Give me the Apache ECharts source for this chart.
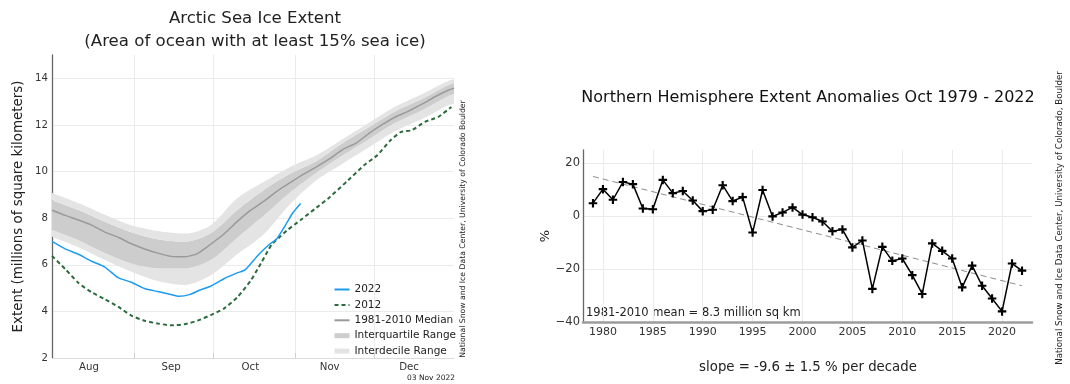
<!DOCTYPE html>
<html><head><meta charset="utf-8">
<script src="https://cdn.jsdelivr.net/npm/echarts@6/dist/echarts.min.js"></script>
<style>html,body{margin:0;padding:0;background:#fff}#c{width:1070px;height:384px}</style>
</head><body><div id="c"></div>
<script>
// ---------- Left chart: daily extent (days since Aug 1) ----------
const months = ['Aug','Sep','Oct','Nov','Dec'];
const monthStartDay = [0, 31, 61, 92, 122];
const monthLabelDay = [14, 45, 75, 105, 135];
const lastDay = 152;

const days2022 = [0,5,10,15,20,25,30,35,40,45,48,52,56,60,65,70,73,78,82,85,89,91,94];
const ext2022  = [7.0,6.68,6.45,6.15,5.90,5.45,5.25,4.98,4.85,4.72,4.65,4.72,4.92,5.08,5.40,5.65,5.78,6.42,6.86,7.12,7.84,8.22,8.63];

const days2012 = [0,5,10,15,20,25,30,35,40,45,50,55,60,65,70,75,79,83,86,89,94,100,105,112,118,123,128,132,136,141,146,151];
const ext2012  = [6.38,5.82,5.22,4.82,4.52,4.20,3.82,3.60,3.48,3.40,3.45,3.60,3.84,4.12,4.60,5.30,6.06,6.86,7.18,7.49,7.92,8.45,8.90,9.63,10.27,10.70,11.34,11.70,11.77,12.13,12.34,12.77];

const daysMedian = [0,5,10,15,20,25,30,35,40,45,50,55,60,65,70,75,80,85,90,95,100,105,110,115,120,125,130,135,140,145,150,152];
const extMedian  = [8.34,8.12,7.92,7.70,7.40,7.18,6.90,6.68,6.50,6.36,6.34,6.48,6.88,7.32,7.85,8.33,8.72,9.15,9.52,9.88,10.20,10.55,10.95,11.22,11.65,12.02,12.35,12.60,12.90,13.22,13.50,13.58];

const bandDays = [0,10,20,30,40,50,60,70,80,90,100,110,120,130,140,150,152];
const p10 = [7.20,6.75,6.20,5.70,5.30,5.13,5.55,6.45,7.30,8.60,9.63,10.35,11.05,11.75,12.25,12.85,12.92];
const p25 = [7.50,7.05,6.50,6.05,5.85,5.84,6.20,7.15,8.10,9.10,9.95,10.70,11.40,12.10,12.63,13.25,13.33];
const p75 = [8.77,8.35,7.85,7.40,7.10,6.99,7.35,8.35,9.20,9.90,10.45,11.22,11.92,12.60,13.12,13.72,13.80];
const p90 = [9.08,8.65,8.15,7.70,7.45,7.34,7.70,8.85,9.55,10.20,10.70,11.40,12.10,12.80,13.33,13.90,13.96];

// ---------- Right chart: October anomalies ----------
const years = [1979,1980,1981,1982,1983,1984,1985,1986,1987,1988,1989,1990,1991,1992,1993,1994,1995,1996,1997,1998,1999,2000,2001,2002,2003,2004,2005,2006,2007,2008,2009,2010,2011,2012,2013,2014,2015,2016,2017,2018,2019,2020,2021,2022];
const anomalies = [4.9,10.2,6.2,12.9,12.1,2.9,2.6,13.7,8.7,9.5,5.9,1.9,2.4,11.7,5.7,7.2,-6.2,9.9,-0.1,1.4,3.3,0.6,-0.4,-2.0,-5.7,-5.0,-11.8,-9.2,-27.5,-11.6,-16.9,-16.0,-22.3,-29.4,-10.3,-13.1,-16.0,-26.9,-18.7,-26.3,-31.1,-36.0,-17.9,-20.6];
const trendYears = [1979, 2022];
const trendValues = [15.0, -26.3];
const yearAxisStart = 1978, yearAxisEnd = 2023;

// ---------- build ----------
const FONT = '"DejaVu Sans", "Liberation Sans", sans-serif';
const dayCats = [];
for (let d = 0; d <= lastDay; d++) {
  let m = 0;
  for (let k = 0; k < monthStartDay.length; k++) if (d >= monthStartDay[k]) m = k;
  dayCats.push(months[m] + ' ' + (d - monthStartDay[m] + 1));
}
const yearCats = [];
for (let y = yearAxisStart; y <= yearAxisEnd; y++) yearCats.push(String(y));

const pairs = (xs, ys) => xs.map((x, i) => [x, ys[i]]);
const diff = (a, b) => a.map((v, i) => +(v - b[i]).toFixed(3));
const minus = v => String(v).replace('-', '\u2212');

const GRID = '#ebebeb', NONE = 'rgba(0,0,0,0)';
const LIGHT = '#e4e4e4', DARK = '#cdcdcd';
const bandCommon = { type: 'line', xAxisIndex: 0, yAxisIndex: 0, stack: 'band', symbol: 'none',
  smooth: 0.3, lineStyle: { width: 0 }, silent: true, z: 1 };

const chart = echarts.init(document.getElementById('c'), null, { renderer: 'canvas' });
chart.setOption({
  animation: false,
  textStyle: { fontFamily: FONT },
  grid: [
    { left: 52, top: 55, width: 402, height: 303 },
    { left: 583, top: 150, width: 449, height: 172 }
  ],
  xAxis: [
    { type: 'category', gridIndex: 0, data: dayCats, boundaryGap: false,
      axisLine: { show: true, onZero: false, lineStyle: { color: '#dcdcdc', width: 1 } },
      axisTick: { show: true, inside: true, length: 5, lineStyle: { color: '#cfcfcf' },
        interval: i => monthStartDay.indexOf(i) > 0 },
      axisLabel: { interval: i => monthLabelDay.indexOf(i) >= 0, formatter: v => v.split(' ')[0],
        color: '#333', fontSize: 10.2, margin: 4, fontFamily: FONT },
      splitLine: { show: true, interval: i => monthStartDay.indexOf(i) > 0, lineStyle: { color: GRID } } },
    { type: 'category', gridIndex: 1, data: yearCats, boundaryGap: false,
      axisLine: { show: true, onZero: false, lineStyle: { color: '#9c9c9c', width: 2.5 } },
      axisTick: { show: false },
      axisLabel: { interval: (i, v) => (+v) % 5 === 0, color: '#333', fontSize: 11, margin: 5, fontFamily: FONT },
      splitLine: { show: true, interval: (i, v) => (+v) % 5 === 0, lineStyle: { color: GRID } } }
  ],
  yAxis: [
    { type: 'value', gridIndex: 0, min: 2, max: 15, interval: 2,
      name: 'Extent (millions of square kilometers)', nameLocation: 'middle', nameGap: 27,
      nameTextStyle: { fontSize: 13.4, color: '#222', fontFamily: FONT },
      axisLine: { show: true, lineStyle: { color: '#666', width: 1.3 } },
      axisTick: { show: false },
      axisLabel: { showMaxLabel: false, color: '#333', fontSize: 10.2, margin: 4, fontFamily: FONT },
      splitLine: { show: true, lineStyle: { color: [GRID, GRID, GRID, GRID, GRID, GRID, GRID, NONE] } } },
    { type: 'value', gridIndex: 1, min: -40, max: 25, interval: 20,
      name: '%', nameLocation: 'middle', nameGap: 31,
      nameTextStyle: { fontSize: 13, color: '#222', fontFamily: FONT },
      axisLine: { show: true, lineStyle: { color: '#666', width: 1.3 } },
      axisTick: { show: false },
      axisLabel: { showMaxLabel: false, formatter: minus, color: '#333', fontSize: 11.5, margin: 3, fontFamily: FONT },
      splitLine: { show: true, lineStyle: { color: [GRID, GRID, GRID, GRID, NONE] } } }
  ],
  legend: {
    orient: 'vertical', left: 332, top: 284, padding: 0, itemWidth: 15, itemHeight: 8, itemGap: 4.4,
    itemStyle: { opacity: 0 },
    textStyle: { fontSize: 10.5, color: '#222', fontFamily: FONT },
    data: ['2022', '2012', '1981-2010 Median',
      { name: 'Interquartile Range', lineStyle: { width: 5, color: DARK } },
      { name: 'Interdecile Range', lineStyle: { width: 5, color: LIGHT } }],
    selectedMode: false
  },
  series: [
    Object.assign({}, bandCommon, { name: 'p10base', data: pairs(bandDays, p10) }),
    Object.assign({}, bandCommon, { name: 'p10-p25', data: pairs(bandDays, diff(p25, p10)), areaStyle: { color: LIGHT, opacity: 1 } }),
    Object.assign({}, bandCommon, { name: 'p25-p75', data: pairs(bandDays, diff(p75, p25)), areaStyle: { color: DARK, opacity: 1 } }),
    Object.assign({}, bandCommon, { name: 'p75-p90', data: pairs(bandDays, diff(p90, p75)), areaStyle: { color: LIGHT, opacity: 1 } }),
    { name: 'Interquartile Range', type: 'line', xAxisIndex: 0, yAxisIndex: 0, data: [], symbol: 'none',
      lineStyle: { color: DARK, width: 5 }, itemStyle: { color: DARK } },
    { name: 'Interdecile Range', type: 'line', xAxisIndex: 0, yAxisIndex: 0, data: [], symbol: 'none',
      lineStyle: { color: LIGHT, width: 5 }, itemStyle: { color: LIGHT } },
    { name: '1981-2010 Median', type: 'line', xAxisIndex: 0, yAxisIndex: 0, data: pairs(daysMedian, extMedian),
      symbol: 'none', smooth: 0.2, lineStyle: { color: '#9a9a9a', width: 1.5 }, itemStyle: { color: '#9a9a9a' }, z: 3 },
    { name: '2012', type: 'line', xAxisIndex: 0, yAxisIndex: 0, data: pairs(days2012, ext2012),
      symbol: 'none', smooth: 0.2, lineStyle: { color: '#2d6b3e', width: 2, type: [4, 3] }, itemStyle: { color: '#2d6b3e' }, z: 4 },
    { name: '2022', type: 'line', xAxisIndex: 0, yAxisIndex: 0, data: pairs(days2022, ext2022),
      symbol: 'none', smooth: 0.2, lineStyle: { color: '#1d9bf0', width: 1.5 }, itemStyle: { color: '#1d9bf0' }, z: 5 },
    { name: 'trend', type: 'line', xAxisIndex: 1, yAxisIndex: 1,
      data: pairs(trendYears.map(String), trendValues), symbol: 'none',
      lineStyle: { color: '#8c8c8c', width: 1, type: [6, 4] }, z: 2 },
    { name: 'October anomaly', type: 'line', xAxisIndex: 1, yAxisIndex: 1,
      data: pairs(years.map(String), anomalies),
      symbol: 'path://M3,0H5V3H8V5H5V8H3V5H0V3H3Z', symbolSize: 8.5, showAllSymbol: true,
      lineStyle: { color: '#000', width: 1.5 }, itemStyle: { color: '#000' }, z: 3 }
  ],
  graphic: [
    { type: 'text', x: 255, y: 19, style: { text: 'Arctic Sea Ice Extent', font: '16.6px ' + FONT, fill: '#222', align: 'center', verticalAlign: 'middle' } },
    { type: 'text', x: 255, y: 42, style: { text: '(Area of ocean with at least 15% sea ice)', font: '16.6px ' + FONT, fill: '#222', align: 'center', verticalAlign: 'middle' } },
    { type: 'text', x: 463, y: 229, rotation: Math.PI / 2, style: { text: 'National Snow and Ice Data Center, University of Colorado Boulder', font: '7.7px ' + FONT, fill: '#222', align: 'center', verticalAlign: 'middle' } },
    { type: 'text', x: 431, y: 378, style: { text: '03 Nov 2022', font: '7.5px ' + FONT, fill: '#222', align: 'center', verticalAlign: 'middle' } },
    { type: 'text', x: 808, y: 98, style: { text: 'Northern Hemisphere Extent Anomalies Oct 1979 - 2022', font: '16px ' + FONT, fill: '#111', align: 'center', verticalAlign: 'middle' } },
    { type: 'text', x: 586, y: 313, style: { text: '1981-2010 mean = 8.3 million sq km', font: '11.5px ' + FONT, fill: '#222', align: 'left', verticalAlign: 'middle' } },
    { type: 'text', x: 808, y: 368, style: { text: 'slope = -9.6 \u00b1 1.5 % per decade', font: '13.3px ' + FONT, fill: '#222', align: 'center', verticalAlign: 'middle' } },
    { type: 'text', x: 1060, y: 218, rotation: Math.PI / 2, style: { text: 'National Snow and Ice Data Center, University of Colorado, Boulder', font: '8.7px ' + FONT, fill: '#222', align: 'center', verticalAlign: 'middle' } }
  ]
});
</script></body></html>
